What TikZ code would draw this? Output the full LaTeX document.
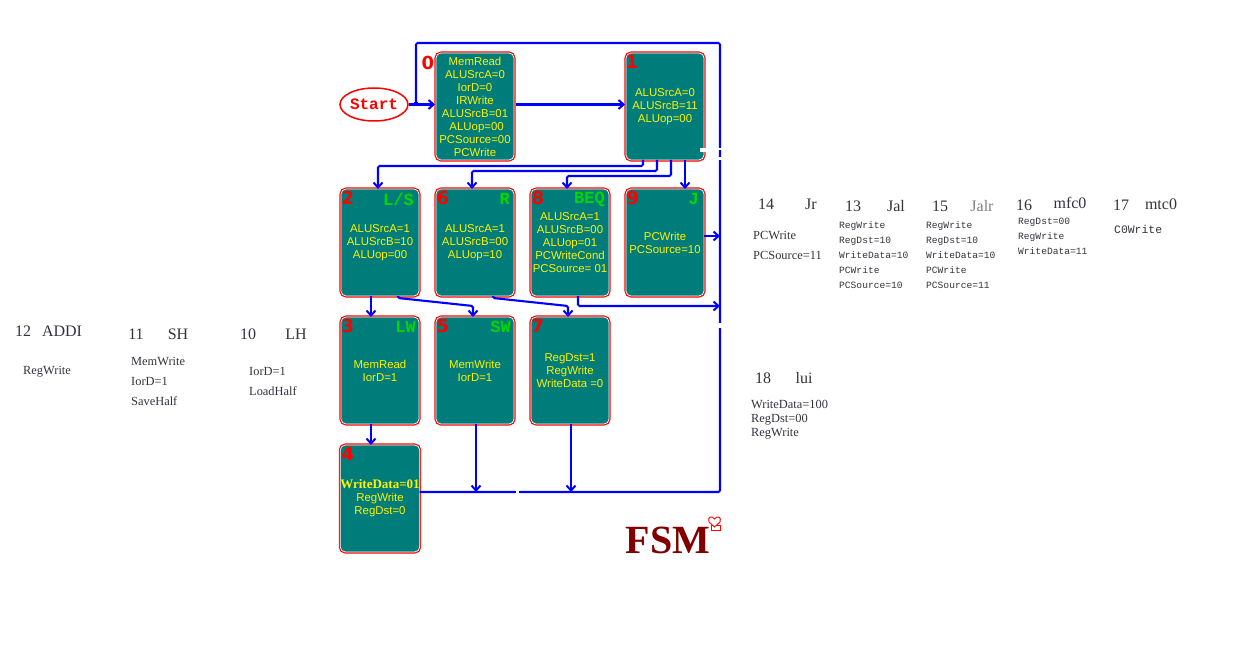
\documentclass[tikz,border=0pt]{standalone}
\usepackage{fontspec}
\setmainfont{Liberation Sans}
\newfontfamily\serifface{Liberation Serif}
\newfontfamily\monoface{Liberation Mono}
\newfontfamily\numface{DejaVu Sans}
\usetikzlibrary{positioning,shapes.geometric,arrows.meta}
\definecolor{boxteal}{RGB}{0,125,122}
\definecolor{fsmred}{RGB}{128,0,0}
\definecolor{noteink}{RGB}{50,50,60}

\begin{document}
\begin{tikzpicture}[x=1pt,y=-1pt, node distance=95pt,
                    state node/.style={rectangle,rounded corners=5pt,preaction={draw=red,line width=3.1pt},
                      draw=white,fill=boxteal,line width=0.7pt,
                      minimum width=78pt,minimum height=107pt,inner sep=0pt,outer sep=0pt,align=center,text=yellow,
                      font=\fontsize{11.4}{13}\selectfont},
                    num node/.style={inner sep=0pt,text=red,font=\fontsize{18}{18}\numface\bfseries},
                    kind node/.style={inner sep=0pt,text=green!85!black,font=\fontsize{17}{17}\monoface\bfseries},
                    head node/.style={inner sep=0pt,text=noteink,font=\fontsize{16}{16}\serifface},
                    note node/.style={inner sep=0pt,align=left,anchor=north west,text=noteink,font=\fontsize{12.4}{20}\serifface},
                    mono node/.style={inner sep=0pt,align=left,anchor=north west,text=noteink,font=\fontsize{9.6}{15}\monoface},
                    wire/.style={draw=blue,line width=2.1pt,rounded corners=1.5pt},
                    arrow/.style={wire,-{Straight Barb[length=5pt,width=9pt,line width=2pt]}}]

  \useasboundingbox (0,0) rectangle (1252,652);

  % top row
  \node[state node] (s0) at (475,106.5) {MemRead\\ALUSrcA=0\\IorD=0\\IRWrite\\ALUSrcB=01\\\ ALUop=00\\PCSource=00\\PCWrite};
  \node[state node] (s1) [right of=s0,node distance=190pt] {ALUSrcA=0\\ALUSrcB=11\\ALUop=00};
  % second row
  \node[state node] (s6) at (475,242.5) {ALUSrcA=1\\ALUSrcB=00\\ALUop=10};
  \node[state node] (s2) [left of=s6] {ALUSrcA=1\\ALUSrcB=10\\ALUop=00};
  \node[state node] (s8) [right of=s6] {ALUSrcA=1\\ALUSrcB=00\\ALUop=01\\PCWriteCond\\PCSource= 01};
  \node[state node] (s9) [right of=s8] {PCWrite\\PCSource=10};
  % third row
  \node[state node] (s5) at (475,370.5) {MemWrite\\IorD=1};
  \node[state node] (s3) [left of=s5] {MemRead\\IorD=1};
  \node[state node] (s7) [right of=s5] {RegDst=1\\RegWrite\\WriteData =0};
  % last one
  \node[state node] (s4) [below of=s3,node distance=128pt] {{\serifface\bfseries\fontsize{13}{13}\selectfont WriteData=01}\\RegWrite\\RegDst=0};

  \node[draw=red,line width=1.5pt,ellipse,minimum width=68pt,minimum height=33pt,inner sep=0pt,text=red,
        font=\fontsize{16}{16}\monoface\bfseries] (start) at (374,104.5) {Start};

  % state numbers
  \node[num node] (n0) at (428,63) {0};
  \node[num node] (n1) at (632,62) {1};
  \node[num node] (n2) at (348,198) {2};
  \node[num node] (n6) at (443,198) {6};
  \node[num node] (n8) at (538,198) {8};
  \node[num node] (n9) at (633,198) {9};
  \node[num node] (n3) at (348,326) {3};
  \node[num node] (n5) at (443,326) {5};
  \node[num node] (n7) at (538,326) {7};
  \node[num node] (n4) at (348,454) {4};

  % kinds
  \node[kind node,anchor=east] (k2) at (414,199) {L/S};
  \node[kind node,anchor=east] (k6) at (510,199) {R};
  \node[kind node,anchor=east] (k8) at (605,199) {BEQ};
  \node[kind node,anchor=east] (k9) at (699,199) {J};
  \node[kind node,anchor=east] (k3) at (416,327) {LW};
  \node[kind node,anchor=east] (k5) at (511,327) {SW};

  % corners of the return line
  \coordinate (bus) at (720,492);
  \coordinate (top) at (720,43);
  \coordinate (join) at (416,104.5);
  \coordinate (topleft) at (416,43);
  \coordinate (in0) at (435,104.5);
  \coordinate (in1) at (625,104.5);
  \coordinate (out0) at (516,104.5);

  % wires
  \draw[arrow] (start.east) -- (in0);
  \draw[wire] (s4.east |- bus) -- (bus) -- (top) -- (topleft) -- (join);
  \fill[blue] (414,102.5) rectangle (418,106.5);
  \draw[arrow] (out0) -- (in1);

  \draw[arrow] ([xshift=-22pt]s1.south) -- ++(0,6) -| ([xshift=-2pt]s2.north);
  \draw[arrow] ([xshift=-8pt]s1.south) -- ++(0,11) -| ([xshift=-3pt]s6.north);
  \draw[arrow] ([xshift=6pt]s1.south) -- ++(0,16) -| ([xshift=-3pt]s8.north);
  \draw[arrow] ([xshift=20pt]s1.south) -- ([xshift=20pt]s9.north);

  \draw[arrow] ([yshift=6.5pt]s9.east) -- ([yshift=6.5pt]s9.east -| bus);
  \draw[arrow] ([xshift=-9pt]s2.south) -- ([xshift=-9pt]s3.north);
  \draw[arrow] ([xshift=18pt]s2.south) -- ++(0,2) -- ([xshift=-2pt,yshift=11pt]s5.north) -- ([xshift=-2pt]s5.north);
  \draw[arrow] ([xshift=18pt]s6.south) -- ++(0,2) -- ([xshift=-2pt,yshift=11pt]s7.north) -- ([xshift=-2pt]s7.north);
  \draw[arrow] ([xshift=8pt]s8.south) |- (720,306);
  \draw[arrow] ([xshift=-9pt]s3.south) -- ([xshift=-9pt]s4.north);
  \draw[arrow] ([xshift=1pt]s5.south) -- ([xshift=1pt]s5.south |- bus);
  \draw[arrow] ([xshift=1pt]s7.south) -- ([xshift=1pt]s7.south |- bus);

  % nicks in the return line
  \fill[white] (718,148) rectangle (723,150.5);
  \fill[white] (718,157.5) rectangle (723,160);
  \fill[white] (718,323) rectangle (723,328);
  \fill[white] (516,489) rectangle (519,495);
  \fill[white] (700,148) rectangle (708,152);

  % left notes
  \node[head node] (h12) at (23,331) {12};
  \node[head node] (t12) at (62,331) {ADDI};
  \node[note node] (b12) at (23,366) {RegWrite};
  \node[head node] (h11) at (136,334) {11};
  \node[head node] (t11) at (178,334) {SH};
  \node[note node] (b11) at (131,357) {MemWrite\\IorD=1\\SaveHalf};
  \node[head node] (h10) at (248,334) {10};
  \node[head node] (t10) at (296,334) {LH};
  \node[note node] (b10) at (249,367) {IorD=1\\LoadHalf};

  % right notes
  \node[head node] (h14) at (766,204) {14};
  \node[head node] (t14) at (811,204) {Jr};
  \node[note node] (b14) at (753,231) {PCWrite\\PCSource=11};
  \node[head node] (h13) at (853,206) {13};
  \node[head node] (t13) at (896,206) {Jal};
  \node[mono node] (b13) at (839,221) {RegWrite\\RegDst=10\\WriteData=10\\PCWrite\\PCSource=10};
  \node[head node] (h15) at (940,206) {15};
  \node[head node,text=gray] (t15) at (982,206) {Jalr};
  \node[mono node] (b15) at (926,221) {RegWrite\\RegDst=10\\WriteData=10\\PCWrite\\PCSource=11};
  \node[head node] (h16) at (1024,205) {16};
  \node[head node] (t16) at (1070,203) {mfc0};
  \node[mono node] (b16) at (1018,218) {RegDst=00\\RegWrite\\WriteData=11};
  \node[head node] (h17) at (1121,205) {17};
  \node[head node] (t17) at (1161,204) {mtc0};
  \node[mono node,font=\fontsize{11.4}{15}\monoface] (b17) at (1114,225) {C0Write};
  \node[head node] (h18) at (763,378) {18};
  \node[head node] (t18) at (804,378) {lui};
  \node[note node,font=\fontsize{12.4}{14}\serifface] (b18) at (751,400) {WriteData=100\\RegDst=00\\RegWrite};

  % title
  \node[inner sep=0pt,text=fsmred,font=\fontsize{40}{40}\serifface\bfseries] (fsm) at (668,540) {FSM};
  \draw[red,line width=0.9pt] (711,525) rectangle (720,530);
  \draw[red,line width=0.9pt,fill=white] (714.5,527) -- (709,522) .. controls (707,517) and (712,515) .. (714.5,519)
     .. controls (717,515) and (722,517) .. (720,522) -- cycle;
\end{tikzpicture}
\end{document}
